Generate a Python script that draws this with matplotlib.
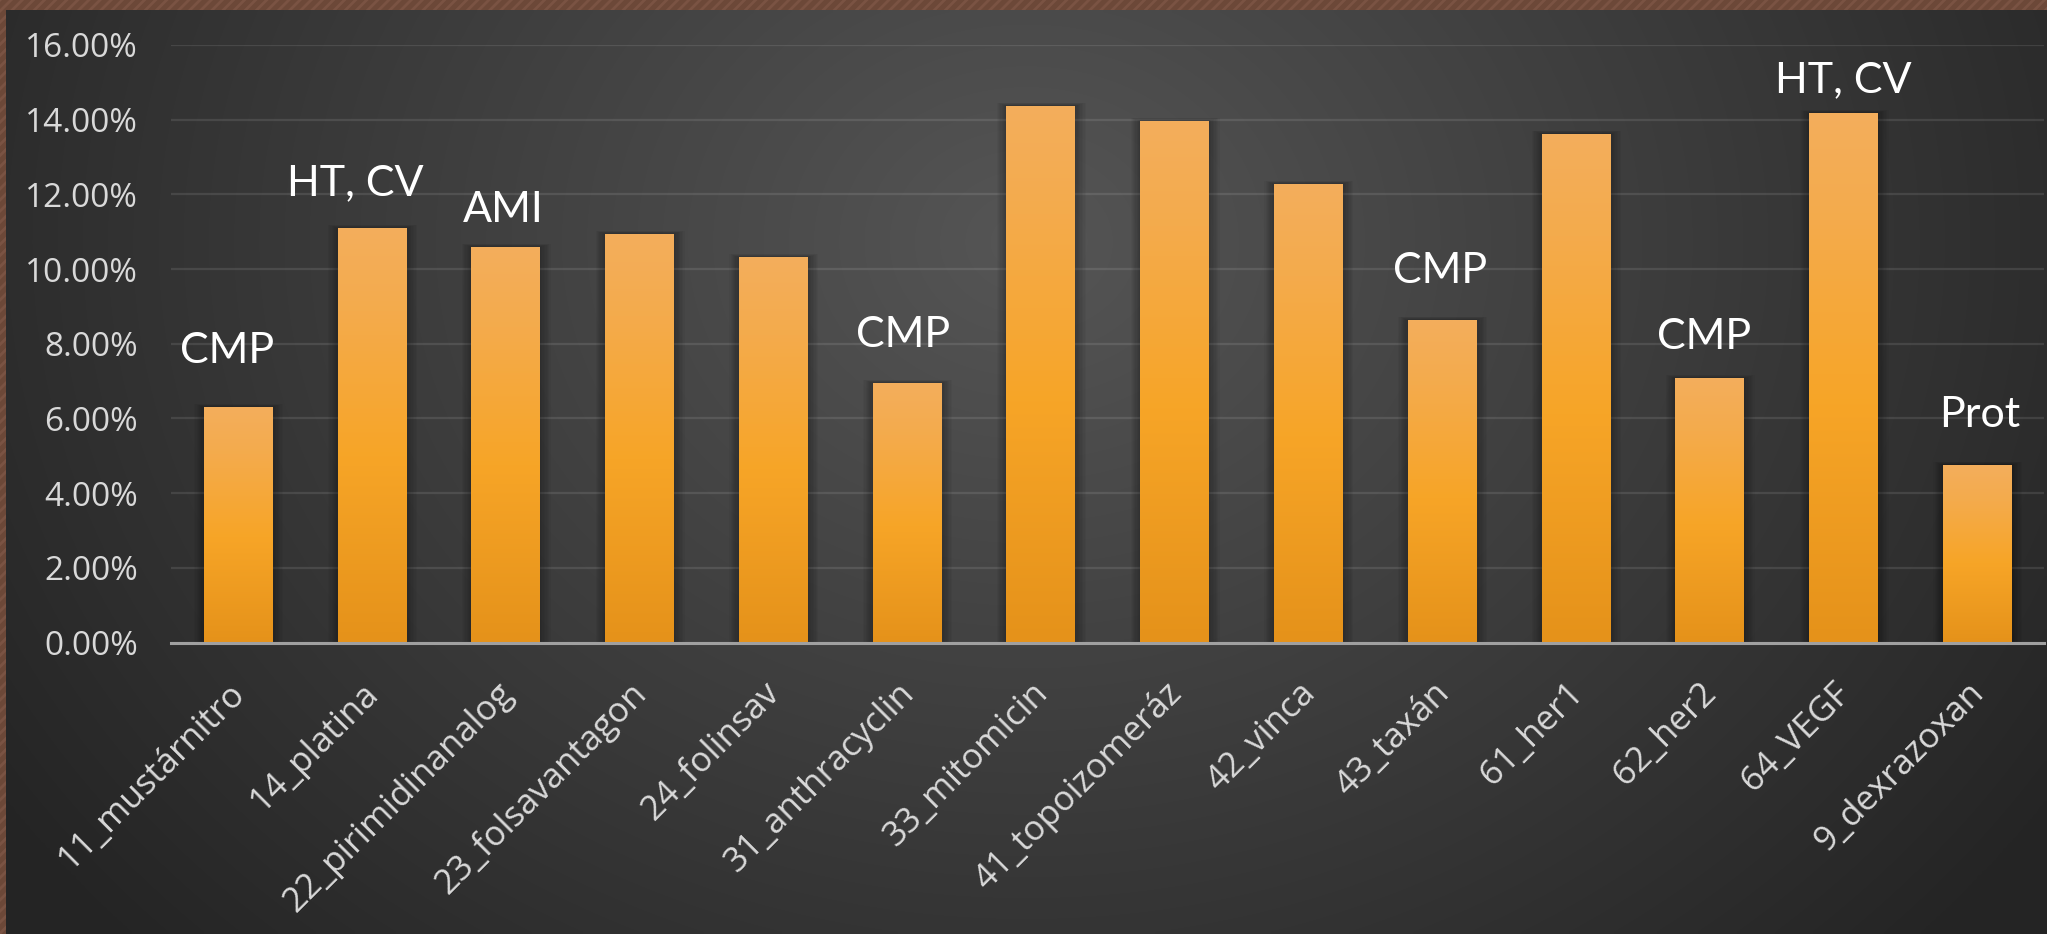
import numpy as np
import matplotlib
matplotlib.use("Agg")
import matplotlib.pyplot as plt
from matplotlib.colors import LinearSegmentedColormap
from matplotlib.patches import Rectangle
from matplotlib.ticker import FuncFormatter
from matplotlib.transforms import ScaledTranslation

# ---------------------- adatok ----------------------
categories = ["11_mustárnitro", "14_platina", "22_pirimidinanalog", "23_folsavantagon",
              "24_folinsav", "31_anthracyclin", "33_mitomicin", "41_topoizomeráz",
              "42_vinca", "43_taxán", "61_her1", "62_her2", "64_VEGF", "9_dexrazoxan"]
values = [6.31, 11.10, 10.59, 10.94, 10.32, 6.95, 14.37, 13.97,
          12.28, 8.64, 13.62, 7.08, 14.18, 4.76]
notes = ["CMP", "HT, CV", "AMI", "", "", "CMP", "", "",
         "", "CMP", "", "CMP", "HT, CV", "Prot"]
yticks = [0, 2, 4, 6, 8, 10, 12, 14, 16]

# felirat eltolások (pixel)
note_dx = [-11, -16, -2, 0, 0, -4, 0, 0, 0, -2, 0, -5, 0, 3]
note_dy = [44, 33, 25, 0, 0, 36, 0, 0, 0, 37, 0, 29, 21, 38]

W, H = 2047, 934
fig = plt.figure(figsize=(W / 100, H / 100), dpi=100)
fig.patch.set_facecolor("#6c4838")
plt.rcParams["hatch.linewidth"] = 2.0
border = Rectangle((0, 0), 1, 1, transform=fig.transFigure,
                   facecolor="none", edgecolor="#7a5343", hatch="///", lw=0, zorder=-10)
fig.patches.append(border)

# sötét háttér sugaras színátmenettel
bg = fig.add_axes([6 / W, 0, 1 - 6 / W, 1 - 10 / H], zorder=0)
bg.axis("off")
gx, gy = np.meshgrid(np.linspace(0, 1, 400), np.linspace(0, 1, 200))
d = np.sqrt(((gx - 0.5) / 0.6) ** 2 + ((gy - 0.25) / 1.1) ** 2)
v = np.clip(1 - d, 0, 1)
g = 0.145 + (0.335 - 0.145) * v
bg.imshow(np.dstack([g, g, g]), extent=[0, 1, 1, 0], aspect="auto", interpolation="bilinear")
bg.set_xlim(0, 1)
bg.set_ylim(1, 0)

ax = fig.add_axes([171 / W, 1 - 642.6 / H, (2044 - 171) / W, (642.6 - 45) / H], zorder=1)
ax.set_facecolor("none")

x = np.arange(len(categories))
bw = 0.51
bars = ax.bar(x, values, width=bw, color="#f5a52c", zorder=3)

# oszlopok lágy árnyéka és színátmenete
bar_cmap = LinearSegmentedColormap.from_list(
    "bar", [(0, "#e5921a"), (0.45, "#f7a527"), (0.8, "#f4ab4c"), (1, "#f3ae5c")])
grad = np.linspace(0, 1, 256).reshape(-1, 1)
px_x = 1 / 133.8
px_y = 16 / 597.6
for b in bars:
    x0, w, h = b.get_x(), b.get_width(), b.get_height()
    for k in range(1, 9):
        ax.add_patch(Rectangle((x0 - k * 1.2 * px_x, 0), w + k * 2.6 * px_x,
                               h + k * 0.4 * px_y, facecolor="black", alpha=0.035,
                               lw=0, zorder=2))
    ax.imshow(grad, extent=[x0, x0 + w, 0, h], origin="lower", cmap=bar_cmap,
              aspect="auto", zorder=4)

for i, (val, txt) in enumerate(zip(values, notes)):
    if txt:
        ax.annotate(txt, (x[i], val), xytext=(note_dx[i], note_dy[i]),
                    textcoords="offset pixels", ha="center", va="baseline",
                    color="white", fontsize=31, family="Lato", zorder=5)

ax.set_xlim(-0.5, len(categories) - 0.5)
ax.set_ylim(0, 16)
ax.set_yticks(yticks)
ax.yaxis.set_major_formatter(FuncFormatter(lambda t, p: f"{t:.2f}%"))
ax.set_xticks(x)
ax.set_xticklabels(categories, rotation=45, ha="right", rotation_mode="anchor")
ax.tick_params(axis="both", length=0, colors="#d9d9d9", labelsize=24)
ax.tick_params(axis="x", labelsize=25, pad=24)
ax.tick_params(axis="y", pad=24)
shift = ScaledTranslation(-10 / 100, 0, fig.dpi_scale_trans)
for lab in ax.get_xticklabels():
    lab.set_transform(lab.get_transform() + shift)
for lab in ax.get_xticklabels() + ax.get_yticklabels():
    lab.set_family("Open Sans")

for s in ["top", "right", "left"]:
    ax.spines[s].set_visible(False)
ax.spines["bottom"].set_color("#a0a0a0")
ax.spines["bottom"].set_linewidth(2.2)
ax.spines["bottom"].set_zorder(6)
ax.yaxis.grid(True, color="white", alpha=0.1, lw=1.6)
ax.set_axisbelow(True)

fig.savefig("out.png", dpi=100, facecolor=fig.get_facecolor())
